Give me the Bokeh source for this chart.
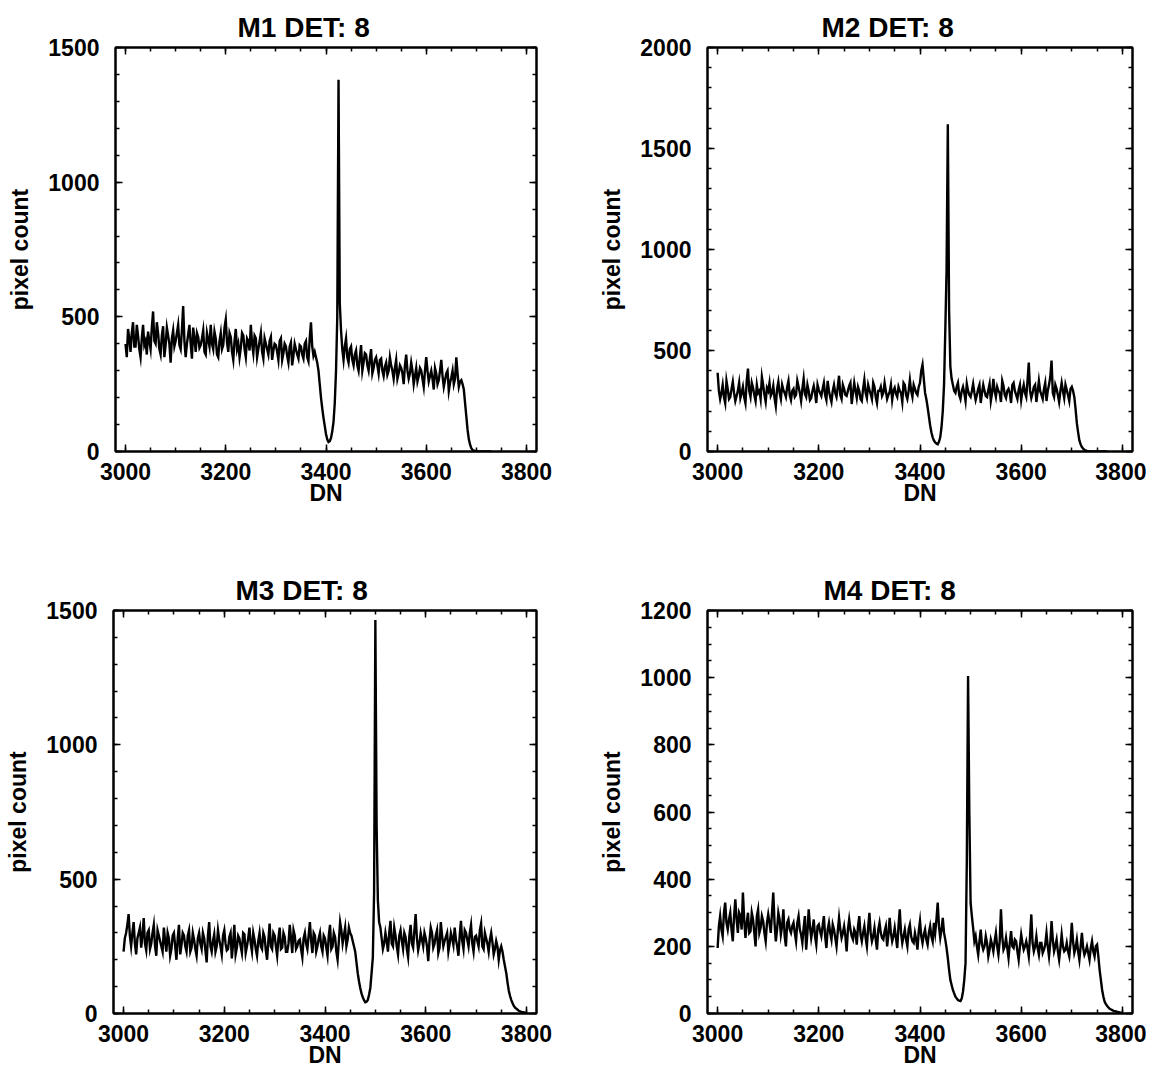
from bokeh.plotting import figure
from bokeh.layouts import column, row
from bokeh.models import LinearAxis, SingleIntervalTicker, Range1d, CustomJSTickFormatter
from bokeh.embed import file_html
from bokeh.resources import INLINE

# ---------------- data ----------------
DN_START = 3000
DN_STEP = 5          # main samples at 3000, 3005, ...
MID_OFFSET = 2.5     # in-between samples at 3002.5, 3007.5, ...

TITLES = ["M1 DET: 8", "M2 DET: 8", "M3 DET: 8", "M4 DET: 8"]
X_LABEL = "DN"
Y_LABEL = "pixel count"

# pixel count, main samples (every 5 DN from 3000)
m1_counts = [
    400, 455, 370, 480, 390, 430, 350, 470, 410, 445,
    380, 520, 400, 440, 360, 465, 395, 430, 330, 450,
    410, 470, 380, 540, 350, 435, 400, 460, 370, 425,
    395, 450, 360, 415, 470, 380, 420, 350, 440, 395,
    490, 370, 425, 340, 455, 400, 385, 430, 350, 410,
    470, 365, 420, 380, 440, 345, 400, 360, 425, 375,
    395, 340, 420, 365, 390, 330, 405, 355, 380, 345,
    390, 345, 410, 335, 480, 355, 350, 300, 200, 125,
    65, 35, 50, 110, 300, 1380, 450, 340, 420, 330,
    390, 320, 375, 300, 395, 330, 360, 300, 380, 310,
    350, 290, 345, 280, 330, 300, 320, 270, 340, 290,
    310, 250, 360, 270, 330, 250, 310, 280, 300, 240,
    350, 260, 300, 230, 290, 265, 340, 240, 290, 225,
    275, 250, 350, 240, 265, 230, 130, 45, 12, 3,
    1, 0, 0, 0, 0, 0, 0,
]
# pixel count, in-between samples (every 5 DN from 3002.5)
m1_mid = [
    350, 420, 440, 390, 470, 380, 420, 395, 360, 410,
    460, 410, 480, 380, 430, 350, 460, 400, 420, 390,
    440, 395, 450, 410, 400, 470, 345, 420, 440, 385,
    420, 370, 440, 390, 400, 445, 360, 410, 380, 460,
    405, 440, 370, 410, 380, 350, 440, 380, 420, 375,
    400, 430, 350, 410, 370, 420, 380, 410, 340, 400,
    370, 410, 340, 400, 355, 390, 320, 400, 360, 395,
    360, 400, 350, 420, 390, 370, 330, 250, 160, 95,
    45, 38, 75, 180, 500, 550, 380, 390, 350, 380,
    340, 360, 320, 350, 300, 365, 320, 345, 290, 340,
    320, 340, 300, 315, 285, 350, 300, 310, 270, 320,
    290, 320, 300, 290, 300, 280, 260, 310, 270, 300,
    300, 280, 270, 310, 250, 300, 280, 265, 300, 255,
    300, 270, 290, 260, 250, 180, 80, 25, 6, 2,
    0, 0, 0, 0, 0, 0,
]
m2_counts = [
    390, 260, 330, 240, 310, 270, 345, 250, 300, 265,
    320, 240, 410, 270, 315, 250, 290, 260, 330, 245,
    300, 275, 325, 225, 345, 260, 305, 270, 350, 255,
    310, 280, 320, 250, 360, 270, 300, 265, 325, 240,
    305, 275, 340, 255, 300, 245, 330, 270, 375, 260,
    310, 275, 325, 235, 340, 265, 300, 250, 355, 265,
    305, 260, 320, 240, 300, 275, 340, 260, 295, 255,
    315, 270, 300, 245, 330, 260, 355, 270, 310, 280,
    340, 430, 290, 220, 130, 70, 45, 36, 70, 200,
    600, 1620, 420, 330, 290, 340, 260, 320, 250, 300,
    270, 335, 255, 310, 240, 330, 275, 305, 250, 360,
    270, 300, 245, 325, 265, 310, 240, 340, 280, 305,
    255, 330, 270, 440, 265, 320, 245, 350, 280, 310,
    250, 330, 450, 270, 310, 245, 340, 265, 305, 250,
    320, 270, 140, 55, 22, 8, 3, 1, 0, 0,
    0, 0, 0, 0, 0,
]
m2_mid = [
    300, 290, 270, 350, 260, 310, 290, 275, 340, 290,
    270, 350, 300, 340, 280, 330, 300, 370, 280, 315,
    340, 290, 265, 310, 290, 330, 290, 320, 280, 300,
    270, 350, 290, 310, 285, 330, 255, 300, 290, 330,
    290, 310, 280, 350, 270, 300, 290, 320, 280, 330,
    280, 300, 340, 290, 300, 320, 260, 310, 290, 330,
    285, 340, 270, 300, 320, 290, 300, 280, 330, 300,
    285, 320, 290, 340, 280, 300, 300, 330, 290, 320,
    400, 360, 260, 175, 95, 55, 40, 48, 120, 330,
    900, 700, 360, 300, 320, 280, 300, 290, 335, 280,
    300, 290, 280, 330, 290, 300, 270, 335, 290, 300,
    320, 290, 350, 280, 300, 290, 330, 300, 260, 330,
    300, 290, 350, 300, 290, 330, 295, 300, 260, 340,
    300, 370, 290, 330, 280, 300, 300, 330, 280, 310,
    300, 210, 95, 35, 14, 5, 2, 0, 0, 0,
    0, 0, 0, 0,
]
m3_counts = [
    230, 300, 370, 250, 340, 220, 300, 245, 355, 235,
    310, 260, 330, 215, 290, 250, 320, 230, 280, 240,
    300, 200, 330, 255, 290, 230, 310, 245, 275, 215,
    300, 240, 280, 190, 340, 230, 295, 250, 275, 220,
    310, 235, 285, 205, 330, 245, 280, 225, 295, 250,
    320, 230, 275, 215, 300, 240, 285, 200, 335, 240,
    290, 215, 320, 245, 285, 230, 330, 225, 290, 250,
    275, 210, 300, 240, 340, 225, 290, 250, 300, 230,
    280, 215, 330, 250, 285, 200, 340, 260, 320, 275,
    300, 270, 230, 150, 95, 60, 42, 50, 95, 210,
    1465, 420, 320, 240, 300, 230, 345, 250, 290, 220,
    310, 240, 285, 210, 330, 245, 370, 235, 300, 250,
    280, 195, 320, 245, 290, 225, 340, 250, 285, 230,
    300, 255, 275, 215, 345, 240, 300, 250, 330, 230,
    290, 250, 335, 240, 280, 230, 300, 220, 270, 200,
    250, 200, 150, 85, 50, 28, 18, 10, 6, 4,
    3,
]
m3_mid = [
    280, 330, 290, 300, 260, 280, 320, 290, 260, 300,
    240, 300, 250, 310, 270, 230, 270, 300, 215, 290,
    250, 280, 220, 300, 250, 290, 230, 300, 240, 280,
    260, 300, 235, 290, 250, 270, 230, 310, 250, 290,
    260, 240, 300, 260, 220, 290, 250, 300, 225, 280,
    260, 300, 240, 270, 250, 300, 235, 270, 250, 300,
    250, 280, 240, 300, 230, 260, 280, 310, 240, 270,
    240, 280, 260, 290, 270, 300, 230, 280, 250, 290,
    245, 290, 240, 300, 230, 270, 310, 290, 250, 320,
    290, 250, 190, 120, 75, 50, 44, 70, 150, 450,
    700, 340, 280, 260, 270, 300, 260, 320, 250, 290,
    270, 300, 240, 290, 260, 310, 280, 260, 275, 300,
    250, 270, 300, 260, 310, 245, 290, 270, 300, 260,
    280, 320, 250, 290, 270, 310, 275, 300, 260, 285,
    270, 310, 250, 300, 260, 275, 265, 240, 250, 235,
    230, 175, 115, 65, 38, 22, 14, 8, 5, 3,
]
m4_counts = [
    195, 290, 230, 330, 250, 300, 215, 340, 240, 290,
    360, 225, 300, 245, 280, 200, 310, 255, 275, 215,
    295, 240, 360, 215, 300, 235, 310, 200, 280, 240,
    270, 215, 290, 235, 255, 190, 310, 225, 280, 205,
    265, 230, 290, 195, 270, 220, 250, 200, 285, 225,
    260, 185, 280, 230, 250, 205, 290, 215, 260, 200,
    300, 215, 255, 190, 270, 225, 245, 200, 285, 215,
    255, 195, 310, 210, 250, 200, 265, 215, 240, 190,
    275, 210, 250, 205, 260, 215, 240, 330, 225, 285,
    220, 165, 100, 70, 50, 40, 37, 65, 150, 1005,
    330, 255, 230, 175, 250, 190, 230, 170, 220, 185,
    240, 175, 310, 190, 225, 165, 245, 195, 215, 160,
    235, 190, 215, 170, 295, 185, 230, 175, 210, 190,
    240, 170, 275, 185, 220, 160, 235, 185, 210, 170,
    270, 180, 220, 160, 240, 175, 200, 160, 215, 170,
    205, 130, 70, 35, 22, 14, 10, 7, 5, 3,
    2,
]
m4_mid = [
    260, 250, 300, 270, 280, 250, 290, 280, 300, 250,
    280, 270, 240, 300, 240, 290, 240, 290, 240, 270,
    270, 300, 270, 250, 280, 260, 230, 270, 250, 260,
    240, 270, 250, 210, 290, 240, 260, 250, 230, 260,
    245, 260, 230, 250, 240, 265, 225, 245, 250, 240,
    230, 250, 250, 220, 240, 260, 235, 240, 225, 255,
    240, 230, 220, 250, 240, 220, 260, 235, 240, 230,
    225, 260, 240, 230, 220, 250, 230, 210, 220, 245,
    230, 235, 220, 240, 230, 270, 280, 260, 250, 240,
    195, 130, 85, 60, 45, 38, 45, 100, 450, 600,
    290, 215, 200, 215, 205, 200, 210, 190, 205, 215,
    200, 215, 230, 200, 195, 210, 200, 220, 185, 200,
    210, 200, 195, 230, 210, 200, 195, 210, 180, 205,
    200, 210, 220, 200, 185, 195, 200, 190, 185, 210,
    215, 195, 185, 200, 195, 185, 180, 195, 185, 200,
    170, 100, 50, 28, 18, 12, 8, 6, 4, 2,
]
SERIES = [(m1_counts, m1_mid), (m2_counts, m2_mid), (m3_counts, m3_mid), (m4_counts, m4_mid)]

X_MIN, X_MAX = 2980, 3820
X_TICK_STEP = 200
Y_MAX = [1500, 2000, 1500, 1200]
Y_TICK_STEP = [500, 500, 500, 200]
Y_MINOR = [5, 5, 5, 4]

# ---------------- layout / style ----------------
FONT = "Liberation Sans"
# width, height, border left, right, top, bottom, title offset
GEOM = [
    (568, 540, 115, 32, 47, 89, 122),
    (578, 540, 139, 14, 47, 89, 114),
    (568, 530, 113, 32, 70, 54, 122),
    (578, 530, 139, 14, 70, 54, 116),
]


def merged(main, mid):
    xs, ys = [], []
    for k, v in enumerate(main):
        xs.append(DN_START + DN_STEP * k)
        ys.append(v)
        if k < len(mid):
            xs.append(DN_START + DN_STEP * k + MID_OFFSET)
            ys.append(mid[k])
    return xs, ys


def make_panel(i):
    w, h, bl, br, bt, bb, toff = GEOM[i]
    xs, ys = merged(*SERIES[i])
    p = figure(width=w, height=h, output_backend="svg", toolbar_location=None,
               x_range=Range1d(X_MIN, X_MAX), y_range=Range1d(0, Y_MAX[i]),
               min_border_left=bl, min_border_right=br,
               min_border_top=bt, min_border_bottom=bb,
               title=TITLES[i])
    p.add_layout(LinearAxis(), "above")
    p.add_layout(LinearAxis(), "right")
    p.line(xs, ys, line_color="black", line_width=2.4, line_join="miter")

    p.grid.visible = False
    p.outline_line_color = "black"
    p.outline_line_width = 2
    p.background_fill_color = "white"
    p.border_fill_color = "white"

    p.title.text_font = FONT
    p.title.text_font_size = "28px"
    p.title.text_font_style = "bold"
    p.title.text_color = "black"
    p.title.align = "left"
    p.title.offset = toff
    p.title.standoff = 10

    for ax in p.xaxis:
        ax.ticker = SingleIntervalTicker(interval=X_TICK_STEP, num_minor_ticks=4)
    for ax in p.yaxis:
        ax.ticker = SingleIntervalTicker(interval=Y_TICK_STEP[i], num_minor_ticks=Y_MINOR[i])
    for ax in list(p.xaxis) + list(p.yaxis):
        ax.axis_line_color = "black"
        ax.axis_line_width = 2
        ax.major_tick_line_color = "black"
        ax.major_tick_line_width = 1.5
        ax.minor_tick_line_color = "black"
        ax.minor_tick_line_width = 1.5
        ax.major_tick_in = 7
        ax.major_tick_out = 0
        ax.minor_tick_in = 4
        ax.minor_tick_out = 0
        ax.major_label_text_font = FONT
        ax.major_label_text_font_style = "bold"
        ax.major_label_text_font_size = "23px"
        ax.major_label_text_color = "black"
        ax.axis_label_text_font = FONT
        ax.axis_label_text_font_style = "bold"
        ax.axis_label_text_font_size = "23px"
        ax.axis_label_text_color = "black"
    for ax in list(p.above) + list(p.right):
        if isinstance(ax, LinearAxis):
            ax.formatter = CustomJSTickFormatter(code="return ''")
            ax.major_label_standoff = 0
    p.below[0].axis_label = X_LABEL
    p.below[0].major_label_standoff = 11
    p.below[0].axis_label_standoff = -3
    p.left[0].axis_label = Y_LABEL
    p.left[0].major_label_standoff = 16
    p.left[0].axis_label_standoff = 12
    return p


panels = [make_panel(i) for i in range(4)]
layout = column(row(panels[0], panels[1]), row(panels[2], panels[3]))

with open("out.html", "w") as f:
    f.write(file_html(layout, INLINE))
